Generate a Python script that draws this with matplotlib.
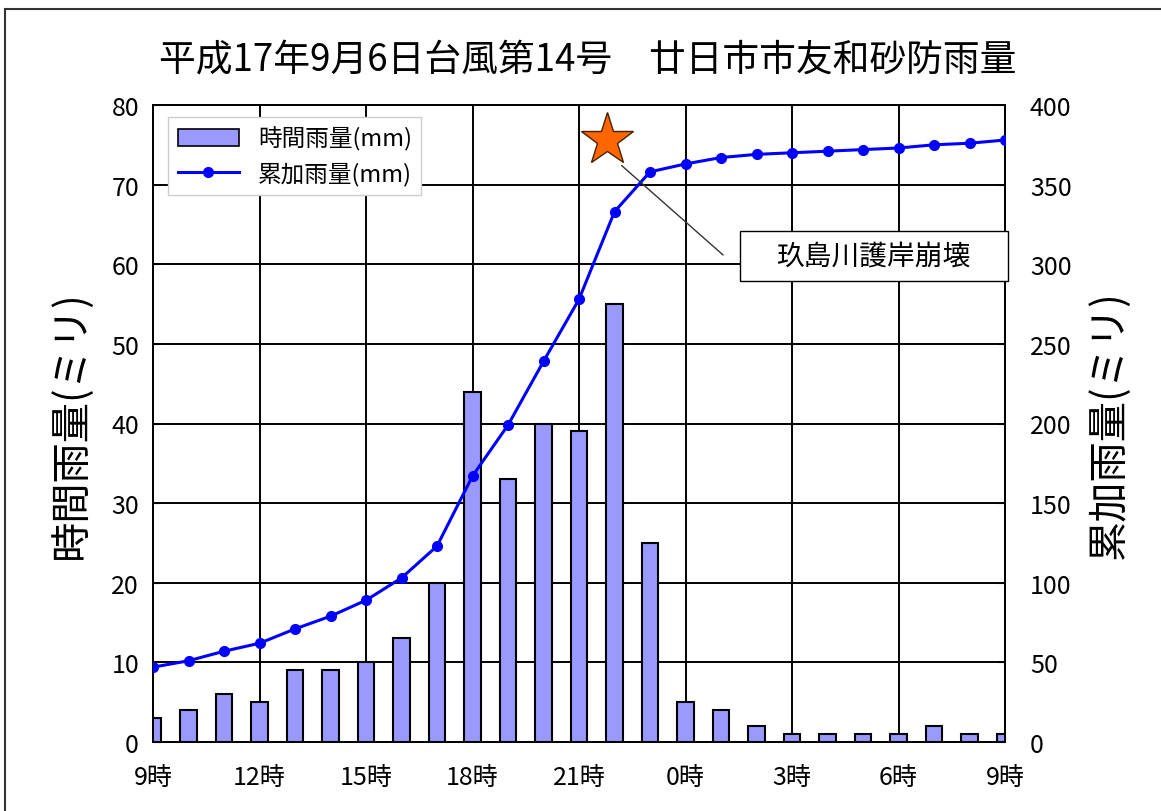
#!/usr/bin/env python3
"""Hourly and cumulative rainfall at 友和砂防, typhoon No.14 (2005-09-06)."""

import matplotlib
matplotlib.use("Agg")
import matplotlib.pyplot as plt
from matplotlib.patches import Rectangle
from matplotlib.lines import Line2D

plt.rcParams["font.family"] = ["Noto Sans CJK JP", "DejaVu Sans"]

# hours since 9時 on the 6th (0 = 9時, 24 = 9時 next day)
hours = list(range(25))
tick_hours = [0, 3, 6, 9, 12, 15, 18, 21, 24]
tick_labels = ["9時", "12時", "15時", "18時", "21時", "0時", "3時", "6時", "9時"]

hourly_mm = [3, 4, 6, 5, 9, 9, 10, 13, 20, 44, 33, 40, 39, 55, 25,
             5, 4, 2, 1, 1, 1, 1, 2, 1, 1]
cumulative_mm = [47, 51, 57, 62, 71, 79, 89, 103, 123, 167, 199, 239, 278, 333, 358,
                 363, 367, 369, 370, 371, 372, 373, 375, 376, 378]

event_x = 12.8        # 護岸崩壊 time (~21:48)
event_y = 378         # star height on the right axis
event_label = "玖島川護岸崩壊"

title = "平成17年9月6日台風第14号　廿日市市友和砂防雨量"

fig = plt.figure(figsize=(11.61, 8.12), dpi=100)
ax = fig.add_axes([153 / 1161, 1 - 743 / 812, (1005 - 153) / 1161, (743 - 106) / 812])
ax2 = ax.twinx()

# outer chart frame
fig.patches.append(Rectangle((5 / 1161, -0.1), 1.2, 1 - 10 / 812 + 0.1,
                             transform=fig.transFigure, fill=False,
                             edgecolor="#333333", linewidth=1.5))

ax.bar(hours, hourly_mm, width=0.47, color="#9999FF", edgecolor="black",
       linewidth=1.5, zorder=3)
ax.set_xlim(0, 24)
ax.set_ylim(0, 80)
ax.set_yticks(range(0, 81, 10))
ax.set_xticks(tick_hours)
ax.set_xticklabels(tick_labels)
ax.grid(True, color="black", linewidth=1.4, zorder=0)
ax.set_axisbelow(True)
ax.tick_params(axis="both", direction="in", labelsize=18, length=5, color="black")
ax.tick_params(axis="x", pad=16)
ax.tick_params(axis="y", pad=10)
ax.set_ylabel("時間雨量(ミリ)", fontsize=29, labelpad=14)

ax2.plot(hours, cumulative_mm, color="#0000FF", linewidth=2.2, marker="o",
         markersize=7, zorder=4)
ax2.set_ylim(0, 400)
ax2.set_yticks(range(0, 401, 50))
ax2.tick_params(axis="y", direction="in", labelsize=18, length=5, pad=18)
ax2.set_ylabel("累加雨量(ミリ)", fontsize=29, labelpad=12)

for a in (ax, ax2):
    for s in a.spines.values():
        s.set_color("black")
        s.set_linewidth(1.4)

# event marker and callout
ax2.plot([event_x], [event_y], marker="*", markersize=40, color="#FF6600",
         markeredgecolor="#442200", markeredgewidth=1.0, zorder=6, clip_on=False)
ax2.add_patch(Rectangle((16.54, 289.5), 7.54, 31.4, facecolor="white",
                        edgecolor="black", linewidth=1.0, zorder=7, clip_on=False))
ax2.text(20.3, 305, event_label, fontsize=20, ha="center", va="center", zorder=8)
ax2.annotate("", xy=(13.2, 362), xytext=(16.06, 305.8),
             arrowprops=dict(arrowstyle="-", color="#333333", linewidth=1.0,
                             shrinkA=0, shrinkB=0),
             zorder=7)

handles = [Rectangle((0, 0), 1, 1, facecolor="#9999FF", edgecolor="black", linewidth=1.2),
           Line2D([], [], color="#0000FF", linewidth=2.2, marker="o", markersize=7)]
leg = ax2.legend(handles, ["時間雨量(mm)", "累加雨量(mm)"], loc="upper left",
                 bbox_to_anchor=(0.004, 1.0), fontsize=17, frameon=True,
                 fancybox=False, framealpha=1, edgecolor="#cccccc",
                 handlelength=2.6, borderpad=0.4, labelspacing=0.45)
leg.set_zorder(9)

fig.text(0.5 * (155 + 1020) / 1161, 1 - 60 / 812, title, fontsize=26.5,
         ha="center", va="center")

fig.savefig("out.png", dpi=100)
